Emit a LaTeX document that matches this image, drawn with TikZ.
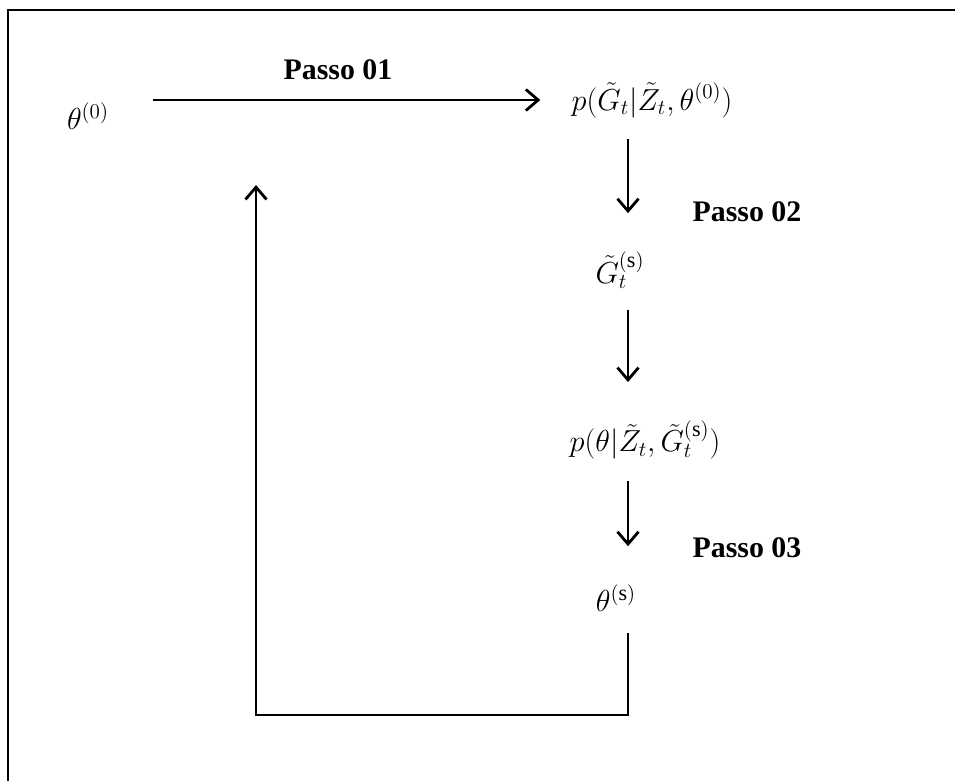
\documentclass[tikz,border=0pt]{standalone}
\usepackage{fontspec}
\setmainfont{Liberation Serif}
\usetikzlibrary{arrows.meta, positioning, calc}
\tikzset{
    gibbsdiagram/.style={>={Straight Barb[length=7pt,width=12pt]}, line width=1.6pt, x=0.02cm, y=-0.02cm},
    state/.style={inner sep=0pt, font=\fontsize{18}{21}\selectfont},
    steplabel/.style={inner sep=0pt, font=\fontsize{17}{20}\selectfont\bfseries},
    frame/.style={line width=1.5pt},
}

\begin{document}
\begin{tikzpicture}[gibbsdiagram]
    \useasboundingbox (0,0) rectangle (955,781);
    \draw[frame] (8,781) -- (8,10) -- (955,10);

    \node[state]                 (th0) at (88,116)  {$\theta^{(0)}$};
    \node[state]                 (pg)  at (652,100) {$p(\tilde{G}_t|\tilde{Z}_t,\theta^{(0)})$};
    \node[state]                 (gs)  at (620,270) {$\tilde{G}_t^{(\mathrm{s})}$};
    \node[state]                 (pt)  at (645,440) {$p(\theta|\tilde{Z}_t,\tilde{G}_t^{(\mathrm{s})})$};
    \node[state]                 (ths) at (616,598) {$\theta^{(\mathrm{s})}$};
    \coordinate                  (col)  at (628,0);
    \coordinate                  (loop) at (256,715);
    \coordinate                  (back) at (256,185);

    \node[steplabel]             (s1)  at (338,70)  {Passo 01};
    \node[steplabel]             (s2)  at (747,212) {Passo 02};
    \node[steplabel]             (s3)  at (747,548) {Passo 03};

    \draw[->, shorten <=0.86cm, shorten >=0.6cm] (th0.east |- pg.west) -- (pg.west);
    \draw[->, shorten <=0.4cm, shorten >=0.74cm] (pg.south -| col) -- (gs.north -| col);
    \draw[->, shorten <=0.4cm, shorten >=0.74cm] (gs.south -| col) -- (pt.north -| col);
    \draw[->, shorten <=0.4cm, shorten >=0.74cm] (pt.south -| col) -- (ths.north -| col);

    % back to the start
    \draw[->, shorten <=0.4cm] (ths.south -| col) |- (loop) -- (back);
\end{tikzpicture}
\end{document}
